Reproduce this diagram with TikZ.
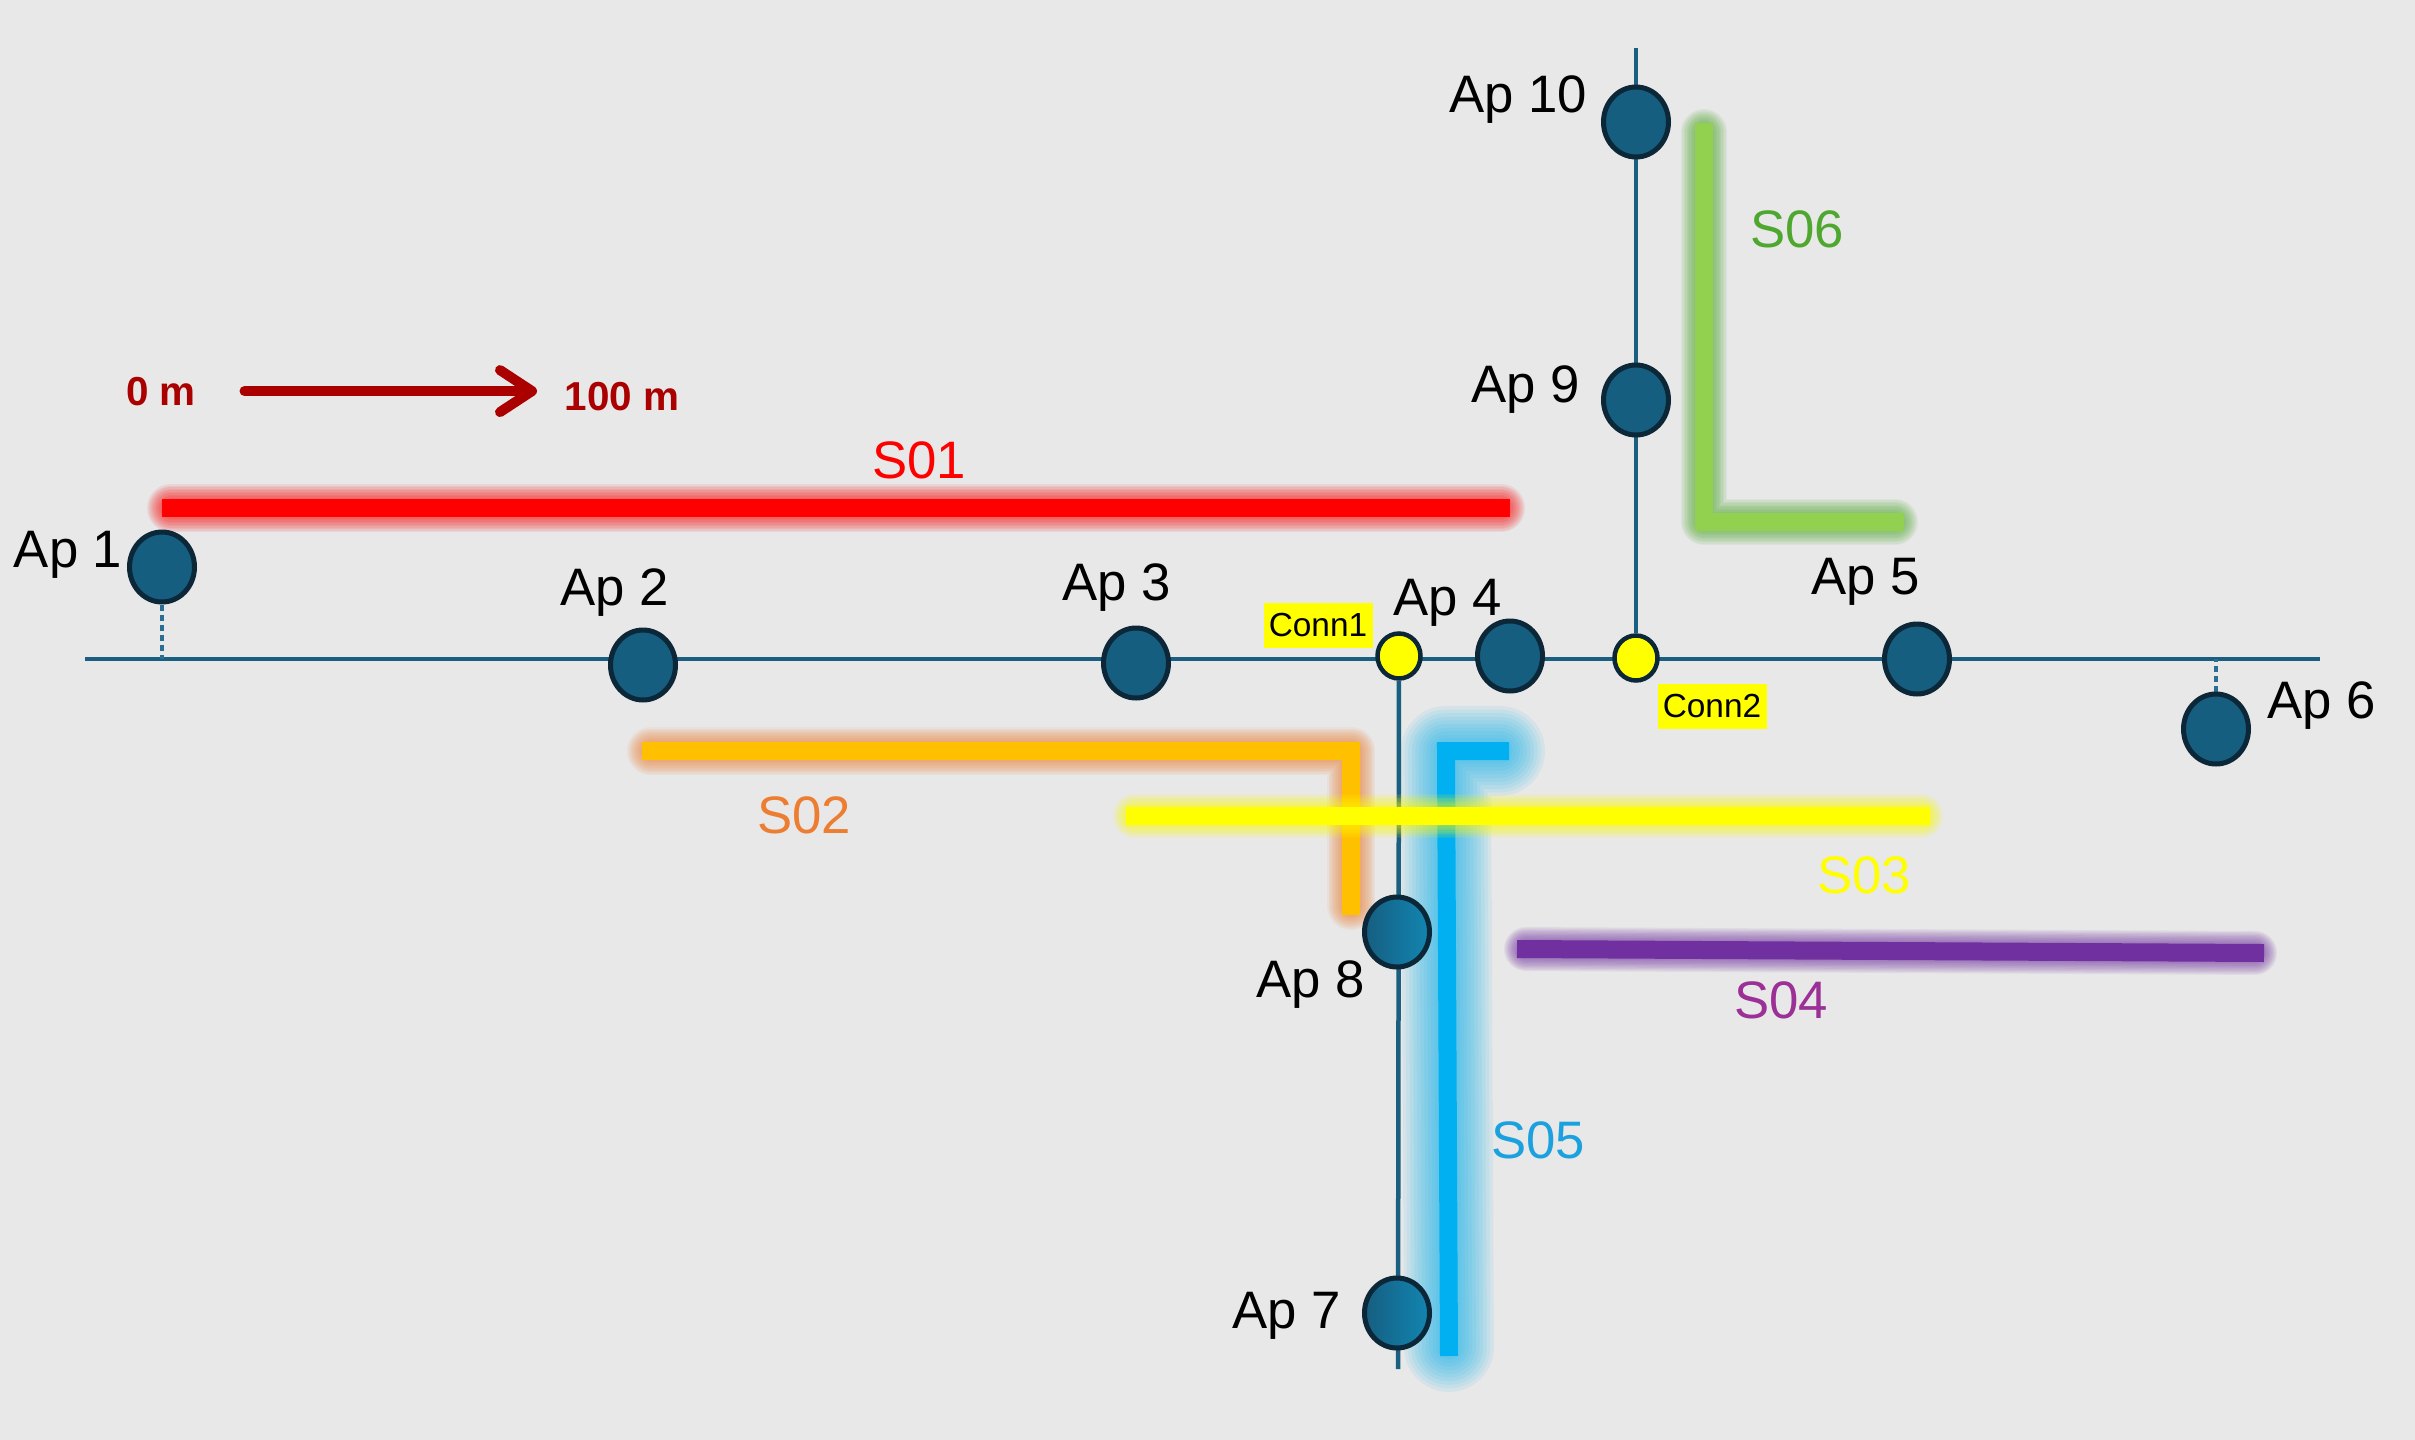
\documentclass[tikz,border=0pt]{standalone}
\usepackage{fontspec}
\setmainfont{Liberation Sans}
\usetikzlibrary{shapes.geometric,arrows.meta,backgrounds}

\definecolor{bggrey}{HTML}{E8E8E8}
\definecolor{apfill}{HTML}{165E80}
\definecolor{aplight}{HTML}{1286B2}
\definecolor{apdraw}{HTML}{0B2738}
\definecolor{cableblue}{HTML}{1B5F80}
\definecolor{tapblue}{HTML}{2A6E93}
\definecolor{scalered}{HTML}{AA0000}
\definecolor{sred}{HTML}{FF0000}
\definecolor{samber}{HTML}{FFC000}
\definecolor{sorange}{HTML}{ED7D31}
\definecolor{syellow}{HTML}{FFFF00}
\definecolor{spurple}{HTML}{7030A0}
\definecolor{smagenta}{HTML}{9B3096}
\definecolor{scyan}{HTML}{00B0F0}
\definecolor{scyantext}{HTML}{1BA1DE}
\definecolor{slime}{HTML}{92D050}
\definecolor{sgreen}{HTML}{4EA72E}

\tikzset{
  ap/.style={ellipse,draw=apdraw,fill=apfill,line width=0.05cm,minimum width=0.65cm,minimum height=0.70cm,inner sep=0},
  apshaded/.style={ap,left color=apfill,right color=aplight},
  conn/.style={ellipse,draw=apdraw,fill=syellow,line width=0.045cm,minimum width=0.43cm,minimum height=0.45cm,inner sep=0},
  aplabel/.style={font=\fontsize{15}{18}\selectfont,inner sep=0,anchor=base},
  connlabel/.style={fill=syellow,font=\fontsize{9.5}{11}\selectfont,minimum width=1.09cm,minimum height=0.45cm,inner sep=0},
  seglabel/.style={font=\fontsize{15}{18}\selectfont,inner sep=0,anchor=base},
  scalelabel/.style={font=\fontsize{11.5}{14}\selectfont\bfseries,text=scalered,inner sep=0,anchor=base},
  bus/.style={draw=cableblue,line width=0.045cm},
  tap/.style={draw=tapblue,line width=0.045cm,dash pattern=on 0.06cm off 0.04cm},
  scalearrow/.style={draw=scalered,line width=0.1cm,line cap=round,
    -{Straight Barb[length=0.32cm,width=0.42cm,line join=round,line cap=round]},
    shorten <=0.48cm,shorten >=0.27cm}
}

% bar colour, glow colour, glow reach (cm), path
\newcommand{\glowbar}[4]{%
  \foreach \k in {1,...,10}{
    \pgfmathsetmacro{\gw}{0.18+2*#3*\k/10}
    \draw[#2,opacity=0.08,line width=\gw cm,line cap=round,line join=round,
      shorten <=0.09cm,shorten >=0.09cm] #4;
  }
  \draw[#1,line width=0.18cm] #4;
}

\begin{document}
\begin{tikzpicture}[x=1cm,y=-1cm]
\useasboundingbox (0,0) rectangle (24.15,14.4);

% access points and connectors
\node[ap] (ap1) at (1.62,5.67) {};
\node[ap] (ap2) at (6.43,6.65) {};
\node[ap] (ap3) at (11.36,6.63) {};
\node[conn] (conn1) at (13.99,6.56) {};
\node[ap] (ap4) at (15.10,6.56) {};
\node[conn] (conn2) at (16.36,6.58) {};
\node[ap] (ap5) at (19.17,6.59) {};
\node[ap] (ap6) at (22.16,7.29) {};
\node[apshaded] (ap7) at (13.97,13.13) {};
\node[apshaded] (ap8) at (13.97,9.32) {};
\node[ap] (ap9) at (16.36,4.00) {};
\node[ap] (ap10) at (16.36,1.22) {};

\coordinate (busW) at (0.85,6.59);
\coordinate (busE) at (23.20,6.59);
\coordinate (busN) at (16.36,0.48);
\coordinate (busS) at (13.98,13.69);

\begin{scope}[on background layer]
\fill[bggrey] (0,0) rectangle (24.15,14.4);
\draw[bus] (busW) -- (busE);
\draw[bus] (conn2) -- (busN);
\draw[bus] (conn1) -- (busS);
\draw[tap] (ap1.south) -- (ap1 |- busW);
\draw[tap] (ap6.north) -- (ap6 |- busE);

% segments
\glowbar{slime}{sgreen}{0.14}{(17.04,1.23) -- (17.04,5.22) -- (19.04,5.22)}
\glowbar{sred}{sred}{0.15}{(1.62,5.08) -- (15.10,5.08)}
\glowbar{spurple}{spurple}{0.13}{(15.17,9.49) -- (22.64,9.53)}
\glowbar{scyan}{scyan}{0.36}{(15.09,7.51) -- (14.46,7.51) -- (14.49,13.56)}
\glowbar{samber}{sorange}{0.15}{(6.42,7.51) -- (13.51,7.51) -- (13.51,9.15)}
\glowbar{syellow}{syellow}{0.13}{(11.26,8.16) -- (19.30,8.16)}
\end{scope}

% labels
\node[aplabel,anchor=base east] (lap1) at (1.23,5.67) {Ap 1};
\node[aplabel] (lap2) at (6.15,6.05) {Ap 2};
\node[aplabel] (lap3) at (11.17,6.00) {Ap 3};
\node[aplabel] (lap4) at (14.48,6.15) {Ap 4};
\node[aplabel] (lap5) at (18.66,5.94) {Ap 5};
\node[aplabel,anchor=base west] (lap6) at (22.67,7.18) {Ap 6};
\node[aplabel] (lap7) at (12.87,13.28) {Ap 7};
\node[aplabel] (lap8) at (13.11,9.97) {Ap 8};
\node[aplabel] (lap9) at (15.26,4.02) {Ap 9};
\node[aplabel] (lap10) at (15.18,1.12) {Ap 10};
\node[connlabel] (lconn1) at (13.18,6.25) {Conn1};
\node[connlabel] (lconn2) at (17.12,7.06) {Conn2};

\node[seglabel,text=sred] (ls01) at (9.19,4.78) {S01};
\node[seglabel,text=sorange] (ls02) at (8.04,8.33) {S02};
\node[seglabel,text=syellow] (ls03) at (18.64,8.93) {S03};
\node[seglabel,text=smagenta] (ls04) at (17.81,10.18) {S04};
\node[seglabel,text=scyantext] (ls05) at (15.38,11.58) {S05};
\node[seglabel,text=sgreen] (ls06) at (17.97,2.47) {S06};

% scale
\node[scalelabel] (scale0) at (1.61,4.05) {0 m};
\node[scalelabel] (scale100) at (6.22,4.10) {100 m};
\draw[scalearrow] (scale0.east) -- (scale0.east -| scale100.west);
\end{tikzpicture}
\end{document}
